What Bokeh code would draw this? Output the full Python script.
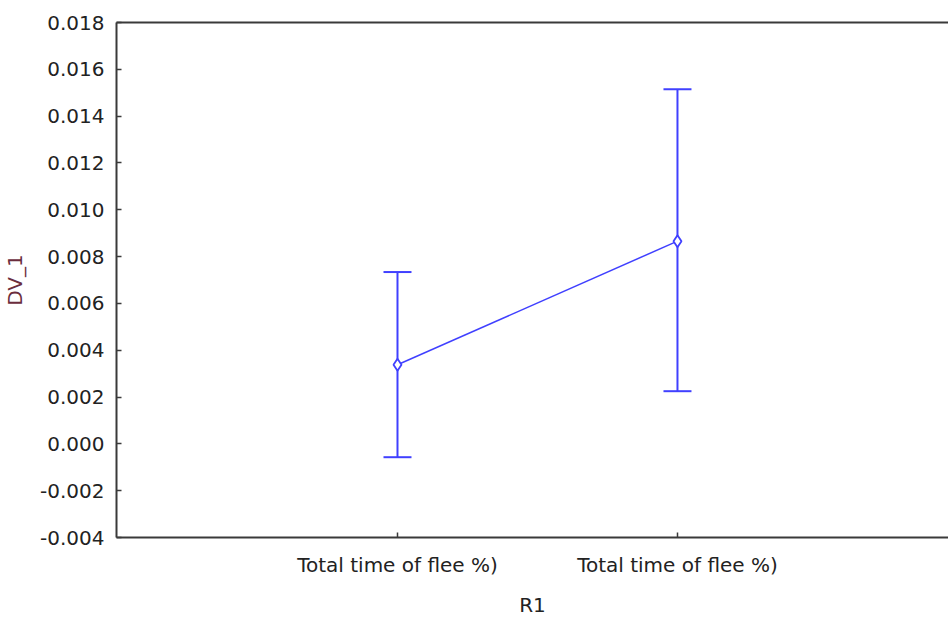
from bokeh.plotting import figure
from bokeh.models import (ColumnDataSource, Whisker, TeeHead, FixedTicker,
                          NumeralTickFormatter, LinearAxis, Range1d)
from bokeh.embed import file_html
from bokeh.resources import INLINE

# Data
categories = ["Total time of flee %)", "Total time of flee %)"]
positions = [1, 2]
means = [0.00338, 0.00866]
upper = [0.00734, 0.01515]
lower = [-0.00057, 0.00225]
y_ticks = [-0.004, -0.002, 0.0, 0.002, 0.004, 0.006, 0.008, 0.010,
           0.012, 0.014, 0.016, 0.018]

BLUE = "#4040ff"
AXIS = "#3a3a3a"
TXT = "#222222"
FONT = "DejaVu Sans"

src = ColumnDataSource(dict(x=positions, y=means, upper=upper, lower=lower))

p = figure(width=948, height=619, output_backend="svg", toolbar_location=None,
           x_range=Range1d(-0.0036, 2.968), y_range=Range1d(y_ticks[0], y_ticks[-1]),
           min_border_left=116, min_border_right=0, min_border_top=22,
           min_border_bottom=82, x_axis_label="R1", y_axis_label="DV_1")
p.outline_line_color = None
p.grid.visible = False
p.background_fill_color = "white"
p.border_fill_color = "white"

p.add_layout(Whisker(source=src, base="x", upper="upper", lower="lower",
                     line_color=BLUE, line_width=2,
                     upper_head=TeeHead(size=28, line_color=BLUE, line_width=2),
                     lower_head=TeeHead(size=28, line_color=BLUE, line_width=2)))
p.line("x", "y", source=src, line_color=BLUE, line_width=1.5)
p.scatter("x", "y", source=src, marker="diamond", size=12, line_color=BLUE,
          fill_color="white", line_width=1.8)

# Axes styling
for ax in (p.xaxis[0], p.yaxis[0]):
    ax.axis_line_color = AXIS
    ax.axis_line_width = 2
    ax.major_tick_line_color = AXIS
    ax.major_tick_line_width = 1.5
    ax.major_tick_in = 5
    ax.major_tick_out = 0
    ax.minor_tick_line_color = None
    ax.major_label_text_font = FONT
    ax.major_label_text_font_size = "20px"
    ax.major_label_text_color = TXT
    ax.axis_label_text_font = FONT
    ax.axis_label_text_font_size = "20px"
    ax.axis_label_text_font_style = "normal"

p.yaxis[0].ticker = FixedTicker(ticks=y_ticks)
p.yaxis[0].formatter = NumeralTickFormatter(format="0.000")
p.yaxis[0].major_label_standoff = 12
p.yaxis[0].axis_label_standoff = 10
p.yaxis[0].axis_label_text_color = "#6b2d3d"

p.xaxis[0].ticker = FixedTicker(ticks=positions)
p.xaxis[0].major_label_overrides = {pos: lab for pos, lab in zip(positions, categories)}
p.xaxis[0].major_label_standoff = 15
p.xaxis[0].axis_label_standoff = 13
p.xaxis[0].axis_label_text_color = TXT

top = LinearAxis(ticker=FixedTicker(ticks=[]), axis_line_color=AXIS, axis_line_width=2,
                 major_tick_line_color=None, minor_tick_line_color=None,
                 major_label_text_color=None)
p.add_layout(top, "above")

open("out.html", "w").write(file_html(p, INLINE))
